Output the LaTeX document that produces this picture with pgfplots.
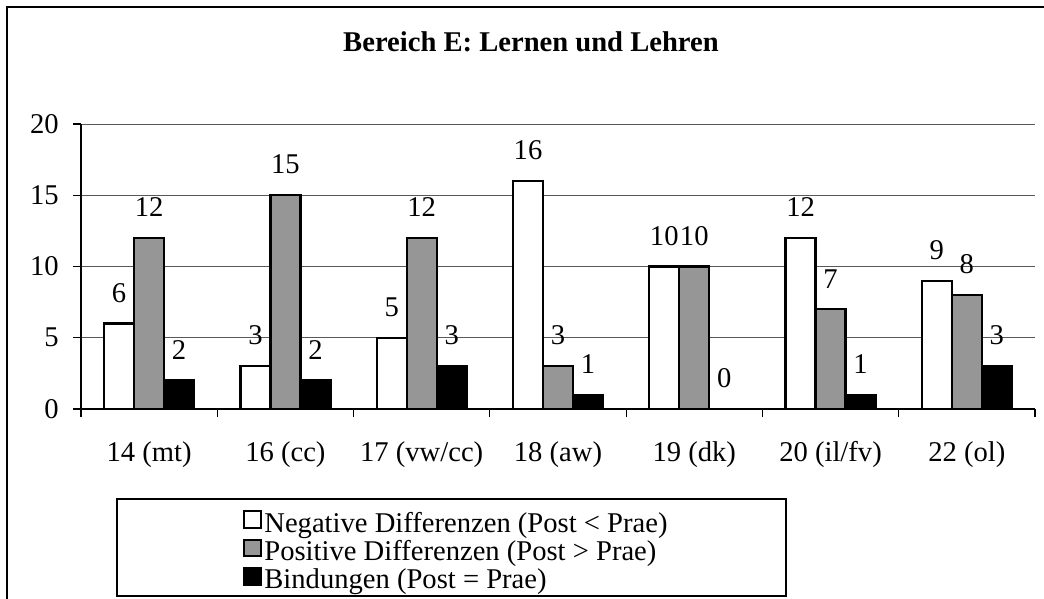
\documentclass[border=0pt]{standalone}
\usepackage{fontspec}
\setmainfont{Liberation Serif}
\usepackage{pgfplots}
\pgfplotsset{compat=1.18}
\definecolor{bargray}{HTML}{969696}
\pgfplotsset{sqlegend/.style={legend image code/.code={\draw[##1,line width=1pt] (0pt,-0.3pt) rectangle (8.5pt,8pt);}}}
\begin{document}
\fontsize{14.3}{16}\selectfont
\begin{tikzpicture}
\path[use as bounding box] (0pt,0pt) rectangle (522pt,-299.5pt);
% outer frame (only left and top visible)
\draw[line width=1pt] (3.5pt,-310pt) -- (3.5pt,-3.5pt) -- (530pt,-3.5pt);
\node[anchor=base, font=\bfseries] at (265.5pt,-26pt) {Bereich E: Lernen und Lehren};
% legend frame
\draw[line width=0.7pt] (58.5pt,-249.5pt) rectangle (393pt,-298pt);
\begin{axis}[
    at={(40.5pt,-204.5pt)}, anchor=south west,
    scale only axis, width=477pt, height=142.5pt,
    ybar=0pt, bar width=15pt,
    xmin=0.5, xmax=7.5, ymin=0, ymax=20,
    xtick={1,...,7},
    xticklabels={14 (mt),16 (cc),17 (vw/cc),18 (aw),19 (dk),20 (il/fv),22 (ol)},
    minor xtick={0.5,1.5,2.5,3.5,4.5,5.5,6.5,7.5},
    ytick={0,5,10,15,20},
    axis x line*=bottom, axis y line*=left,
    axis line style={line width=0.6pt},
    tick align=outside,
    major tick length=4pt, minor tick length=4pt,
    major x tick style={draw=none},
    minor x tick style={black, line width=0.6pt},
    major y tick style={black, line width=0.6pt},
    ymajorgrids,
    grid style={black!65, line width=0.5pt},
    xticklabel style={anchor=base, inner sep=0pt, yshift=-22pt},
    yticklabel style={anchor=east, inner sep=0pt, xshift=-7pt},
    /pgf/number format/assume math mode=true,
    nodes near coords,
    every node near coord/.append style={anchor=south, inner sep=0pt, yshift=10pt},
    clip=false,
    legend cell align=left,
    legend style={at={(0.1698,-0.3544)}, anchor=north west, draw=none, fill=none,
        inner sep=0pt, row sep=0pt,
        nodes={inner ysep=0pt, inner xsep=1pt, text height=8pt, text depth=3.25pt}},
]
\addplot[draw=black, line width=1.2pt, fill=white, sqlegend] coordinates {
    (1,6) (2,3) (3,5) (4,16) (5,10) (6,12) (7,9)};
\addplot[draw=black, line width=1.2pt, fill=bargray, sqlegend] coordinates {
    (1,12) (2,15) (3,12) (4,3) (5,10) (6,7) (7,8)};
\addplot[draw=black, line width=1.2pt, fill=black, sqlegend] coordinates {
    (1,2) (2,2) (3,3) (4,1) (5,0) (6,1) (7,3)};
\legend{Negative Differenzen (Post < Prae), Positive Differenzen (Post > Prae), Bindungen (Post = Prae)}
\end{axis}
\end{tikzpicture}
\end{document}
